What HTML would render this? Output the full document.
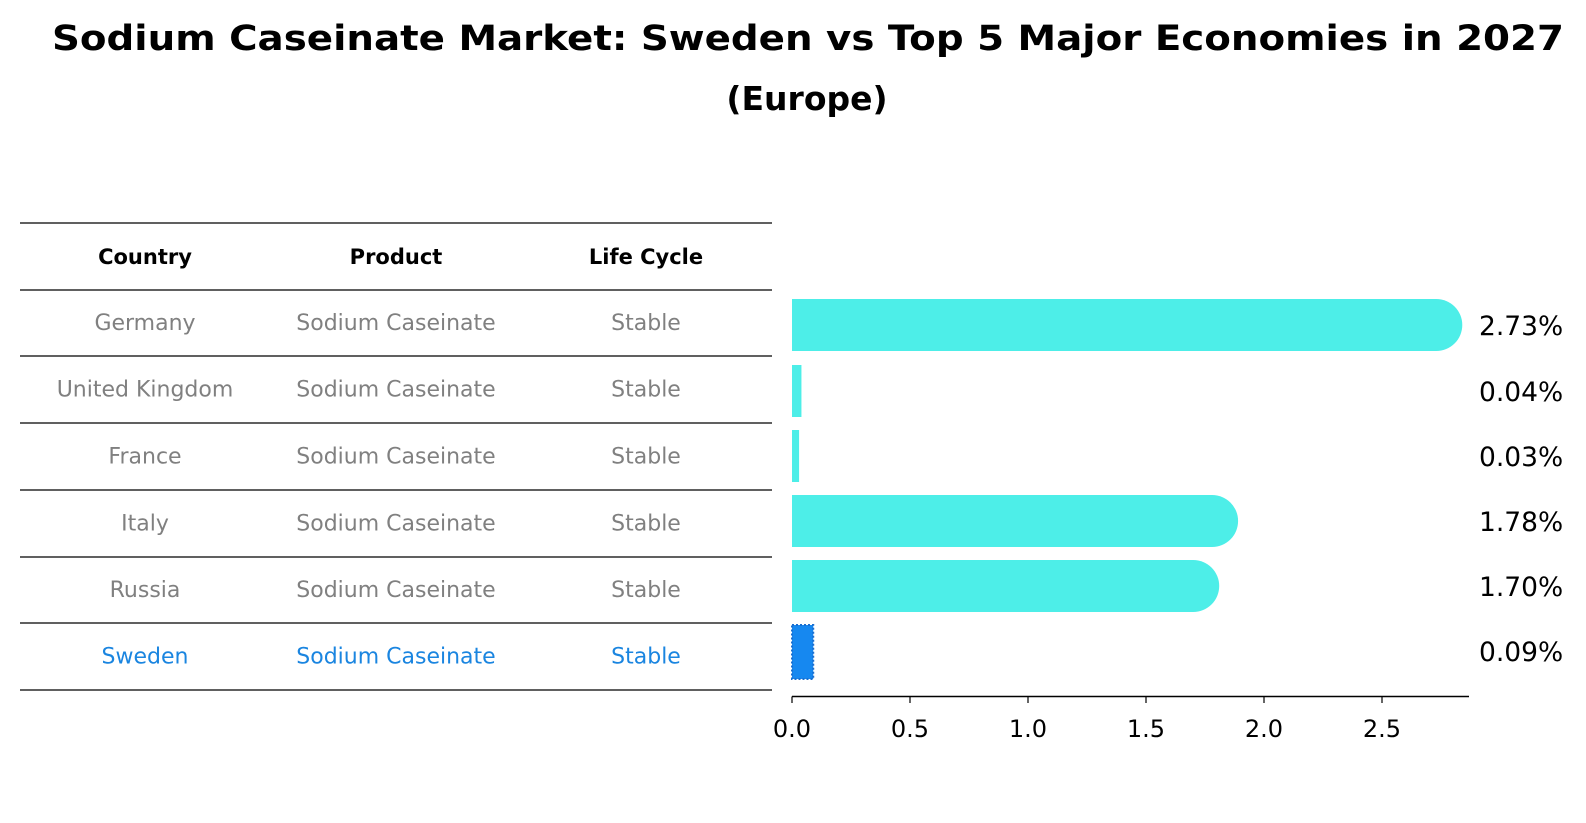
<!DOCTYPE html>
<html><head><meta charset="utf-8"><style>
html,body{margin:0;padding:0;background:#fff;}
svg{display:block;font-family:"DejaVu Sans","Liberation Sans",sans-serif;}
</style></head><body>
<svg id="chart" width="1586" height="823" viewBox="0 0 1586 823" xmlns="http://www.w3.org/2000/svg">
<text x="808" y="50" text-anchor="middle" font-size="35" font-weight="bold" textLength="1512" lengthAdjust="spacingAndGlyphs">Sodium Caseinate Market: Sweden vs Top 5 Major Economies in 2027</text>
<text x="807" y="110" text-anchor="middle" font-size="33" font-weight="bold">(Europe)</text>
<g id="table"></g>
<g id="bars"></g>
</svg>
<script>
const countries = ["Germany","United Kingdom","France","Italy","Russia","Sweden"];
const products = ["Sodium Caseinate","Sodium Caseinate","Sodium Caseinate","Sodium Caseinate","Sodium Caseinate","Sodium Caseinate"];
const lifeCycles = ["Stable","Stable","Stable","Stable","Stable","Stable"];
const values = [2.73,0.04,0.03,1.78,1.70,0.09];
const tickValues = [0,0.5,1.0,1.5,2.0,2.5];
const tickLabels = ["0.0","0.5","1.0","1.5","2.0","2.5"];

const NS="http://www.w3.org/2000/svg";
function mk(tag,attrs,parent,text){const e=document.createElementNS(NS,tag);for(const k in attrs)e.setAttribute(k,attrs[k]);if(text!==undefined)e.textContent=text;parent.appendChild(e);return e;}
const table=document.getElementById('table');
const bars=document.getElementById('bars');
const lineYs=[223,290,356,423,490,557,623,690];
const colX=[145,396,646];
const headers=["Country","Product","Life Cycle"];
for(let i=0;i<lineYs.length;i++){
  const l=mk('line',{x1:20,x2:772,y1:lineYs[i],y2:lineYs[i],stroke:'#000','stroke-width':1.2},table);
  
  
}
headers.forEach((h,j)=>{
  const t=mk('text',{x:colX[j],y:264,'text-anchor':'middle','font-size':21,'font-weight':'bold',fill:'#000'},table,h);
  
  
});
const n=countries.length;
for(let i=0;i<n;i++){
  const cy=(lineYs[i+1]+lineYs[i+2])/2;
  const col=countries[i]==="Sweden"?'#1a85e0':'#808080';
  [countries[i],products[i],lifeCycles[i]].forEach((s,j)=>{
    const t=mk('text',{x:colX[j],y:cy+7,'text-anchor':'middle','font-size':22,fill:col},table,s);
    
    
  });
}
const x0=792, pxPerUnit=236;
function xs(v){return x0+v*pxPerUnit;}
const barCenters=[325,391,456,521,586,651];
const bh=52;
const ax=mk('line',{x1:x0,x2:1469,y1:696.5,y2:696.5,stroke:'#000','stroke-width':1.5},bars);


tickValues.forEach((v,i)=>{
  const t=mk('line',{x1:xs(v),x2:xs(v),y1:696.5,y2:703,stroke:'#000','stroke-width':1.2},bars);
  
  
  const lb=mk('text',{x:xs(v),y:737,'text-anchor':'middle','font-size':24,fill:'#000'},bars,tickLabels[i]);
  
  
});
for(let i=0;i<n;i++){
  const cy=barCenters[i], top=cy-bh/2, w=xs(values[i])-x0;
  let el;
  if(countries[i]==="Sweden"){
    el=mk('rect',{x:x0,y:top,width:w,height:bh+2,fill:'#1688f0',stroke:'#1a6fd0','stroke-width':2,'stroke-dasharray':'2 2'},bars);
  } else if(w>bh/2){
    const r=bh/2;
    el=mk('path',{d:`M${x0},${top} H${x0+w} A${r},${r} 0 0 1 ${x0+w},${top+bh} H${x0} Z`,fill:'#4deee8'},bars);
  } else {
    el=mk('rect',{x:x0,y:top,width:w,height:bh,fill:'#4deee8'},bars);
  }
  
  
  const lb=mk('text',{x:1479,y:cy+10,'font-size':26.5,fill:'#000'},bars,values[i].toFixed(2)+'%');
  
  
}
</script>
</body></html>
